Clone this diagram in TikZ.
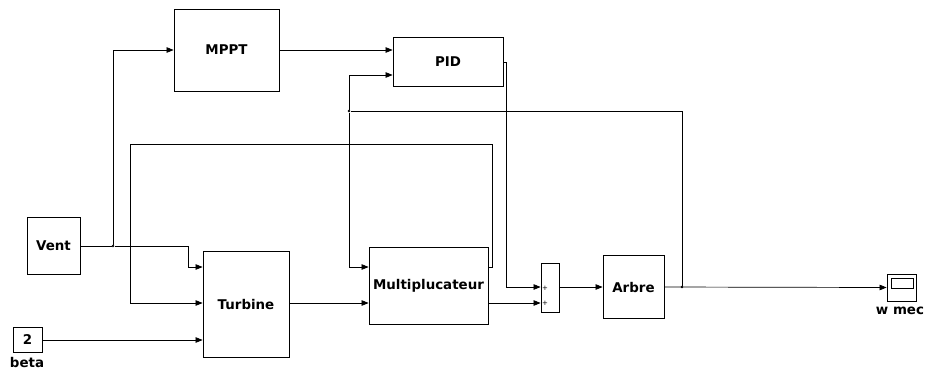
\documentclass[tikz,border=0pt]{standalone}
\usepackage{fontspec}
\setmainfont{DejaVu Sans}
\usepackage{tikz}
\usetikzlibrary{arrows.meta, positioning}

\begin{document}
\begin{tikzpicture}[
  x=1pt, y=-1pt,
  blk/.style={draw, line width=0.8pt, inner sep=0pt, align=center,
              font=\fontsize{13.4}{15}\selectfont\bfseries},
  arr/.style={-{Triangle[length=7pt, width=5.5pt]}, line width=0.7pt},
  wire/.style={line width=0.7pt},
  lbl/.style={font=\fontsize{13.4}{15}\selectfont\bfseries, inner sep=0pt},
  dot/.style={circle, fill, inner sep=0pt, minimum size=2.6pt}
]
\useasboundingbox (0,0) rectangle (927,373);

% ── BLOCKS ────────────────────────────────────────────────────────────────────
\node[blk, minimum width=53pt,  minimum height=57pt]  (vent) at (53.5,246)  {Vent};
\node[blk, minimum width=29pt,  minimum height=25pt]  (beta) at (27.5,340)  {2};
\node[lbl]                                            (betalbl) at (27,362) {beta};
\node[blk, minimum width=86pt,  minimum height=106pt] (turb) at (246,304)   {Turbine};
\node[blk, minimum width=105pt, minimum height=82pt]  (mppt) at (226.5,50)  {MPPT};
\node[blk, minimum width=110pt, minimum height=49pt]  (pid)  at (448,62)    {PID};
\node[blk, minimum width=119pt, minimum height=77pt]  (mult) at (428.5,285.5) {Multiplucateur};
\node[blk, minimum width=18pt,  minimum height=49pt]  (sum)  at (550,287.5) {};
\node[font=\scriptsize, inner sep=0pt] (plusa) at (545,288) {+};
\node[font=\scriptsize, inner sep=0pt] (plusb) at (545,303) {+};
\node[blk, minimum width=61pt,  minimum height=63pt]  (arbre) at (633.5,287) {Arbre};
\node[blk, minimum width=29pt,  minimum height=27pt]  (scope) at (901.5,287.5) {};
\node[draw, line width=0.7pt, minimum width=22pt, minimum height=10pt, inner sep=0pt]
  (screen) at (902,283) {};
\node[lbl]                                            (wlbl) at (900,311)  {w mec};

% branch points
\node[dot] (j1) at (113,246) {};
\node[dot] (j2) at (349,111) {};
\node[dot] (j3) at (682,287) {};

% ── WIRES ─────────────────────────────────────────────────────────────────────
\draw[wire] (vent.east) -- (j1);
\draw[arr]  (j1) -- (188,246) |- (turb.west |- 0,267);
\draw[arr]  (j1) |- (mppt.west);
\draw[arr]  (mppt.east) -- (pid.west |- mppt.east);
\draw[arr]  (pid.east) -- (506,62) |- (sum.west |- 0,287);

\draw[arr]  (beta.east) -- (turb.west |- beta.east);
\draw[arr]  (turb.east |- 0,303) -- (mult.west |- 0,303);

% feedback from multiplicateur to turbine
\draw[arr]  (mult.east |- 0,267) -- (492,267) -- (492,144) -- (130,144)
            |- (turb.west |- 0,303);

\draw[arr]  (mult.east |- 0,303) -- (sum.west |- 0,303);
\draw[arr]  (sum.east |- 0,287) -- (arbre.west |- 0,287);
\draw[arr]  (arbre.east) -- (scope.west);

% speed feedback
\draw[wire] (j3) -- (682,111) -- (j2);
\draw[arr]  (j2) |- (pid.west |- 0,75);
\draw[arr]  (j2) |- (mult.west |- 0,267);

\end{tikzpicture}
\end{document}
